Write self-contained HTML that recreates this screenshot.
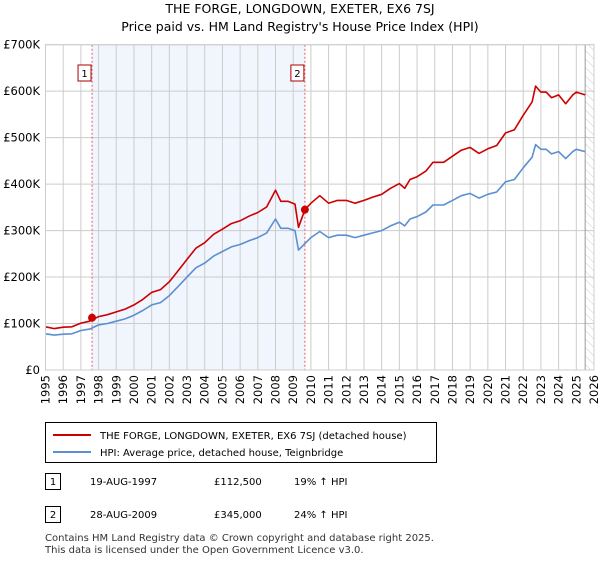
<!DOCTYPE html>
<html><head><meta charset="utf-8">
<style>
body{margin:0;background:#fff;font-family:"Liberation Sans","DejaVu Sans",sans-serif;}
svg text{font-family:"DejaVu Sans","Liberation Sans",sans-serif;}
</style></head>
<body>
<svg width="600" height="560" viewBox="0 0 600 560">
<defs>
<pattern id="hatch" width="6" height="6" patternUnits="userSpaceOnUse" patternTransform="rotate(-45)">
<line x1="0" y1="0" x2="0" y2="6" stroke="#ccc" stroke-width="1"/>
</pattern>
</defs>
<text x="300" y="13" text-anchor="middle" font-size="12.5" fill="#000">THE FORGE, LONGDOWN, EXETER, EX6 7SJ</text>
<text x="300" y="31" text-anchor="middle" font-size="12.5" fill="#000">Price paid vs. HM Land Registry's House Price Index (HPI)</text>
<g id="plot"></g>
<g id="legend">
<rect x="45.5" y="422.5" width="391" height="40" fill="#fff" stroke="#000" stroke-width="1"/>
<line x1="53" y1="435" x2="91" y2="435" stroke="#cc0000" stroke-width="2"/>
<text x="100" y="439" font-size="10">THE FORGE, LONGDOWN, EXETER, EX6 7SJ (detached house)</text>
<line x1="53" y1="452" x2="91" y2="452" stroke="#5b8fd0" stroke-width="2"/>
<text x="100" y="456" font-size="10">HPI: Average price, detached house, Teignbridge</text>
</g>
<g font-size="10">
<rect x="45.5" y="473.5" width="15" height="16" fill="#fff" stroke="#000"/>
<text x="53" y="485" text-anchor="middle">1</text>
<text x="90" y="485">19-AUG-1997</text>
<text x="214" y="485">£112,500</text>
<text x="294" y="485">19% ↑ HPI</text>
<rect x="45.5" y="506.5" width="15" height="16" fill="#fff" stroke="#000"/>
<text x="53" y="518" text-anchor="middle">2</text>
<text x="90" y="518">28-AUG-2009</text>
<text x="214" y="518">£345,000</text>
<text x="294" y="518">24% ↑ HPI</text>
</g>
<text x="45" y="541" font-size="10" fill="#333">Contains HM Land Registry data © Crown copyright and database right 2025.</text>
<text x="45" y="553" font-size="10" fill="#333">This data is licensed under the Open Government Licence v3.0.</text>
</svg>
<script>
const yearTicks=[1995,1996,1997,1998,1999,2000,2001,2002,2003,2004,2005,2006,2007,2008,2009,2010,2011,2012,2013,2014,2015,2016,2017,2018,2019,2020,2021,2022,2023,2024,2025,2026];
const valueTicks=[0,100000,200000,300000,400000,500000,600000,700000];
const valueLabels=["£0","£100K","£200K","£300K","£400K","£500K","£600K","£700K"];
const hpiTimes=[1995,1995.5,1996,1996.5,1997,1997.5,1998,1998.5,1999,1999.5,2000,2000.5,2001,2001.5,2002,2002.5,2003,2003.5,2004,2004.5,2005,2005.5,2006,2006.5,2007,2007.5,2008,2008.3,2008.7,2009.1,2009.3,2009.66,2010,2010.5,2011,2011.5,2012,2012.5,2013,2013.5,2014,2014.5,2015,2015.3,2015.6,2016,2016.5,2016.9,2017.5,2018,2018.5,2019,2019.5,2020,2020.5,2021,2021.5,2022,2022.5,2022.7,2023,2023.3,2023.6,2024,2024.4,2024.8,2025,2025.5];
const hpiValues=[78,75,77,78,85,88,97,100,105,110,118,128,140,145,160,180,200,220,230,245,255,265,270,278,285,295,325,305,305,300,258,272,285,298,285,290,290,285,290,295,300,310,318,310,325,330,340,355,355,365,375,380,370,378,383,405,410,435,458,485,475,475,465,470,455,470,475,470];
const priceValues=[93,89,92,93,101,105,115,119,125,131,140,152,167,173,190,214,238,262,274,292,303,315,321,331,339,351,387,363,363,357,307,345,359,375,359,365,365,359,365,372,378,391,401,391,410,416,428,447,447,460,473,479,466,476,483,510,517,548,577,611,598,598,586,592,573,592,598,592];
const saleTimes=[1997.63,2009.66];
const saleValues=[112500,345000];
const saleLabels=["1","2"];

const NS="http://www.w3.org/2000/svg";
const X0=45.5,X1=594,Y0=370,Y1=44.7;
const xs=t=>X0+(t-1995)/(2026-1995)*(X1-X0);
const ys=v=>Y0-v/700000*(Y0-Y1);
const g=document.getElementById('plot');
function mk(tag,attrs){const e=document.createElementNS(NS,tag);for(const k in attrs)e.setAttribute(k,attrs[k]);g.appendChild(e);return e;}

const shade=mk('rect',{x:xs(saleTimes[0]),y:Y1,width:xs(saleTimes[1])-xs(saleTimes[0]),height:Y0-Y1,fill:'#eef3fc',opacity:0.8});


const hat=mk('rect',{x:xs(2025.5),y:Y1,width:X1-xs(2025.5),height:Y0-Y1,fill:'url(#hatch)'});



yearTicks.forEach(y=>{
  const l=mk('line',{x1:xs(y),x2:xs(y),y1:Y1,y2:Y0,stroke:'#ccc','stroke-width':1});
  
  
  const t=mk('text',{x:0,y:0,'font-size':11.5,'text-anchor':'end',transform:`translate(${xs(y)+4},${Y0+5}) rotate(-90)`});
  t.textContent=y;
  
  
});
valueTicks.forEach((v,i)=>{
  const l=mk('line',{x1:X0,x2:X1,y1:ys(v),y2:ys(v),stroke:'#ccc','stroke-width':1});
  
  
  const t=mk('text',{x:40,y:ys(v)+4,'font-size':11.5,'text-anchor':'end'});
  t.textContent=valueLabels[i];
  
  
});
const vl=mk('line',{x1:xs(2025.5),x2:xs(2025.5),y1:Y1,y2:Y0,stroke:'#999','stroke-width':1});



saleTimes.forEach((t,i)=>{
  const l=mk('line',{x1:xs(t),x2:xs(t),y1:Y1,y2:Y0,stroke:'#e06060','stroke-width':1,'stroke-dasharray':'2,2'});
  
  
  const b=mk('rect',{x:xs(t)-14,y:65,width:13,height:16,fill:'#fff',stroke:'#aa0000','stroke-width':1});
  
  
  const tx=mk('text',{x:xs(t)-7.5,y:77,'font-size':10,'text-anchor':'middle'});
  tx.textContent=saleLabels[i];
  
  
});

function line(vals,color,name){
  const d=hpiTimes.map((t,i)=>(i?'L':'M')+xs(t).toFixed(1)+','+ys(vals[i]*1000).toFixed(1)).join('');
  const p=mk('path',{d:d,fill:'none',stroke:color,'stroke-width':1.6,'stroke-linejoin':'round'});
  
  
}
line(hpiValues,'#5b8fd0','hpi-line');
line(priceValues,'#cc0000','price-paid-line');

saleTimes.forEach((t,i)=>{
  const c=mk('circle',{cx:xs(t),cy:ys(saleValues[i]),r:4,fill:'#cc0000'});
  
  
});
const frame=mk('rect',{x:X0,y:Y1,width:X1-X0,height:Y0-Y1,fill:'none',stroke:'#ccc'});


</script>
</body></html>
